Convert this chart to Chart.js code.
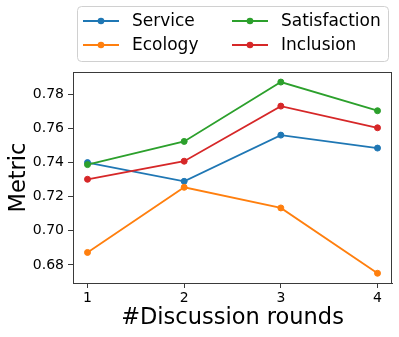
<!DOCTYPE html>
<html>
<head>
<meta charset="utf-8">
<script src="https://cdn.jsdelivr.net/npm/chart.js@4/dist/chart.umd.min.js"></script>
<style>
  body { margin: 0; background: #fff; }
  canvas { display: block; }
</style>
</head>
<body>
<canvas id="grafico" width="399" height="337"></canvas>
<script>
// rondas de discusion (eje x)
var rondas = [1, 2, 3, 4];
var ticks_y = [0.68, 0.70, 0.72, 0.74, 0.76, 0.78];

// valores
var service = [0.7400, 0.7290, 0.7561, 0.7485];
var ecology = [0.6873, 0.7255, 0.7134, 0.6751];
var satisfaction = [0.7388, 0.7524, 0.7872, 0.7704];
var inclusion = [0.7302, 0.7408, 0.7731, 0.7604];

var nombres = ['Service', 'Ecology', 'Satisfaction', 'Inclusion'];
var colores = ['#1f77b4', '#ff7f0e', '#2ca02c', '#d62728'];
var series = [service, ecology, satisfaction, inclusion];

var fuente = 'DejaVu Sans';
var color_eje = '#3a3a3a';

function armarDataset(i) {
  return {
    label: nombres[i],
    data: rondas.map(function (r, j) { return { x: r, y: series[i][j] }; }),
    borderColor: colores[i],
    backgroundColor: colores[i],
    pointBackgroundColor: colores[i],
    pointBorderColor: colores[i],
    borderWidth: 1.8,
    pointRadius: 3,
    pointBorderWidth: 1,
    order: 4 - i,   // el ultimo se dibuja arriba, como en matplotlib
    clip: false
  };
}

// leyenda en dos columnas con marco, y marco completo del area
var pluginExtra = {
  id: 'extra',
  afterDatasetsDraw: function (chart) {
    var ctx = chart.ctx;
    var a = chart.chartArea;
    ctx.save();
    ctx.strokeStyle = color_eje;
    ctx.lineWidth = 1;
    ctx.strokeRect(Math.round(a.left) + 0.5, Math.round(a.top) + 0.5,
      Math.round(a.right - a.left) - 1, Math.round(a.bottom - a.top));
    ctx.restore();
  },
  afterDraw: function (chart) {
    var ctx = chart.ctx;
    ctx.save();
    // marco de la leyenda
    var x0 = 77.5, y0 = 6.5, x1 = 388.5, y1 = 61.5, r = 4;
    ctx.beginPath();
    ctx.moveTo(x0 + r, y0);
    ctx.lineTo(x1 - r, y0);
    ctx.quadraticCurveTo(x1, y0, x1, y0 + r);
    ctx.lineTo(x1, y1 - r);
    ctx.quadraticCurveTo(x1, y1, x1 - r, y1);
    ctx.lineTo(x0 + r, y1);
    ctx.quadraticCurveTo(x0, y1, x0, y1 - r);
    ctx.lineTo(x0, y0 + r);
    ctx.quadraticCurveTo(x0, y0, x0 + r, y0);
    ctx.closePath();
    ctx.fillStyle = 'rgba(255,255,255,0.8)';
    ctx.fill();
    ctx.strokeStyle = '#d0d0d0';
    ctx.lineWidth = 1;
    ctx.stroke();

    var columnas = [83, 232];
    var filas = [21, 45];
    ctx.font = '17px "' + fuente + '"';
    ctx.textBaseline = 'middle';
    ctx.textAlign = 'left';
    for (var i = 0; i < nombres.length; i++) {
      var cx = columnas[Math.floor(i / 2)];
      var cy = filas[i % 2];
      ctx.strokeStyle = colores[i];
      ctx.lineWidth = 1.8;
      ctx.beginPath();
      ctx.moveTo(cx, cy);
      ctx.lineTo(cx + 36, cy);
      ctx.stroke();
      ctx.fillStyle = colores[i];
      ctx.beginPath();
      ctx.arc(cx + 18, cy, 3.3, 0, Math.PI * 2);
      ctx.fill();
      ctx.fillStyle = '#000';
      ctx.fillText(nombres[i], cx + 49, cy + 1);
    }
    ctx.restore();
  }
};

var configuracion = {
  type: 'line',
  data: { datasets: [0, 1, 2, 3].map(armarDataset) },
  options: {
    responsive: false,
    animation: false,
    devicePixelRatio: 1,
    layout: { padding: { top: 72, right: 7, left: 0, bottom: 0 } },
    plugins: { legend: { display: false }, tooltip: { enabled: false } },
    scales: {
      x: {
        type: 'linear',
        min: 0.85,
        max: 4.15,
        afterBuildTicks: function (s) { s.ticks = rondas.map(function (v) { return { value: v }; }); },
        afterFit: function (s) { s.height = 54; },
        ticks: {
          color: '#000',
          padding: 2,
          font: { family: fuente, size: 14 },
          callback: function (v) { return String(v); }
        },
        grid: { display: true, drawOnChartArea: false, tickLength: 5, color: color_eje },
        border: { display: true, color: color_eje },
        title: {
          display: true,
          text: '#Discussion rounds',
          color: '#000',
          font: { family: fuente, size: 22.5 },
          padding: { top: 0, bottom: 5 }
        }
      },
      y: {
        type: 'linear',
        min: 0.6694,
        max: 0.7931,
        afterBuildTicks: function (s) { s.ticks = ticks_y.map(function (v) { return { value: v }; }); },
        afterFit: function (s) { s.width = 73; },
        ticks: {
          color: '#000',
          padding: 4,
          font: { family: fuente, size: 14 },
          callback: function (v) { return v.toFixed(2); }
        },
        grid: { display: true, drawOnChartArea: false, tickLength: 5, color: color_eje },
        border: { display: true, color: color_eje },
        title: {
          display: true,
          text: 'Metric',
          color: '#000',
          font: { family: fuente, size: 22.5 },
          padding: { top: 6, bottom: 0 }
        }
      }
    }
  },
  plugins: [pluginExtra]
};

var ctx = document.getElementById('grafico').getContext('2d');
window.mi_grafico = new Chart(ctx, configuracion);
</script>
</body>
</html>
